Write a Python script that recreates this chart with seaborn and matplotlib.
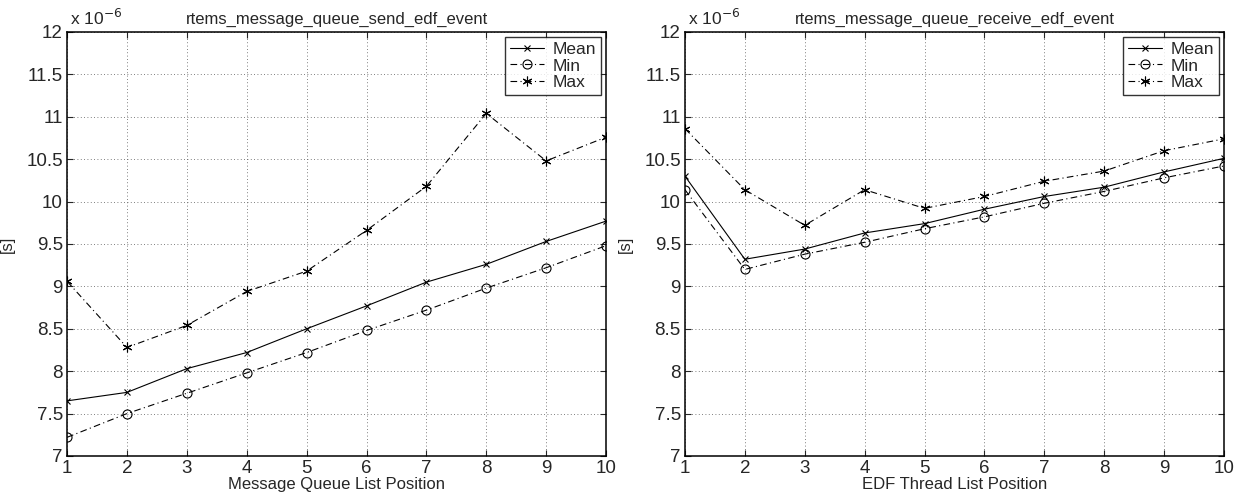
import matplotlib
matplotlib.use("Agg")
import matplotlib.pyplot as plt
import seaborn as sns
import pandas as pd

# values in units of 1e-6 s
positions = list(range(1, 11))

send_mean = [7.65, 7.75, 8.03, 8.22, 8.50, 8.77, 9.05, 9.26, 9.53, 9.77]
send_min = [7.22, 7.50, 7.74, 7.98, 8.22, 8.48, 8.72, 8.98, 9.22, 9.48]
send_max = [9.06, 8.28, 8.54, 8.94, 9.18, 9.66, 10.18, 11.04, 10.48, 10.76]

recv_mean = [10.30, 9.32, 9.44, 9.63, 9.74, 9.91, 10.06, 10.17, 10.35, 10.51]
recv_min = [10.14, 9.20, 9.38, 9.52, 9.68, 9.82, 9.98, 10.12, 10.28, 10.42]
recv_max = [10.86, 10.14, 9.72, 10.14, 9.92, 10.06, 10.24, 10.36, 10.60, 10.74]

y_ticks = [7, 7.5, 8, 8.5, 9, 9.5, 10, 10.5, 11, 11.5, 12]
y_tick_labels = ["7", "7.5", "8", "8.5", "9", "9.5", "10", "10.5", "11", "11.5", "12"]

sns.set_style("white")
plt.rcParams['font.family'] = ['Liberation Sans', 'DejaVu Sans']
plt.rcParams['font.size'] = 12

fig = plt.figure(figsize=(12.44, 4.99), dpi=100)
ax_l = fig.add_axes([0.0539, 0.0862, 0.4333, 0.8497])
ax_r = fig.add_axes([0.5506, 0.0862, 0.4333, 0.8497])

dashdot = (0, (6, 3, 1, 3))
styles = {
    "Mean": dict(marker="x", linestyle="-", ms=5),
    "Min": dict(marker="o", linestyle=dashdot, ms=6.5, mfc="none"),
    "Max": dict(marker=(6, 2, 0), linestyle=dashdot, ms=7),
}


def draw_panel(ax, mean, mn, mx, title, xlabel):
    df = pd.DataFrame({"pos": positions, "Mean": mean, "Min": mn, "Max": mx})
    for name in ["Mean", "Min", "Max"]:
        st = styles[name]
        sns.lineplot(data=df, x="pos", y=name, ax=ax, color="black", lw=0.8,
                     marker=st["marker"], markersize=st["ms"],
                     markerfacecolor=st.get("mfc", "black"), markeredgecolor="black",
                     markeredgewidth=0.8, label=name)
        ax.lines[-1].set_linestyle(st["linestyle"])

    ax.set_xlim(1, 10)
    ax.set_ylim(7, 12)
    ax.set_xticks(positions)
    ax.set_yticks(y_ticks)
    ax.set_yticklabels(y_tick_labels)
    ax.tick_params(direction="in", length=4, width=0.8, labelsize=13.5,
                   top=True, right=True, bottom=True, left=True, pad=3)
    ax.grid(True, linestyle=(0, (1, 3)), color="#555555", lw=0.6)
    for s in ax.spines.values():
        s.set_visible(True)
        s.set_color("black")
        s.set_linewidth(1.1)
    ax.set_title(title, fontsize=12, pad=6)
    ax.set_xlabel(xlabel, fontsize=12, labelpad=0)
    ax.set_ylabel("[s]", fontsize=12, labelpad=8)
    ax.text(0.005, 1.01, r"x 10$^{-6}$", transform=ax.transAxes, fontsize=12.5,
            ha="left", va="bottom")
    leg = ax.legend(loc="upper right", frameon=True, fancybox=False, fontsize=12.5,
                    handlelength=2.0, borderpad=0.25, labelspacing=0.1,
                    handletextpad=0.5, borderaxespad=0.3)
    leg.get_frame().set_edgecolor("black")
    leg.get_frame().set_linewidth(1.0)


draw_panel(ax_l, send_mean, send_min, send_max,
           "rtems_message_queue_send_edf_event", "Message Queue List Position")
draw_panel(ax_r, recv_mean, recv_min, recv_max,
           "rtems_message_queue_receive_edf_event", "EDF Thread List Position")

fig.savefig("out.png", dpi=100)
